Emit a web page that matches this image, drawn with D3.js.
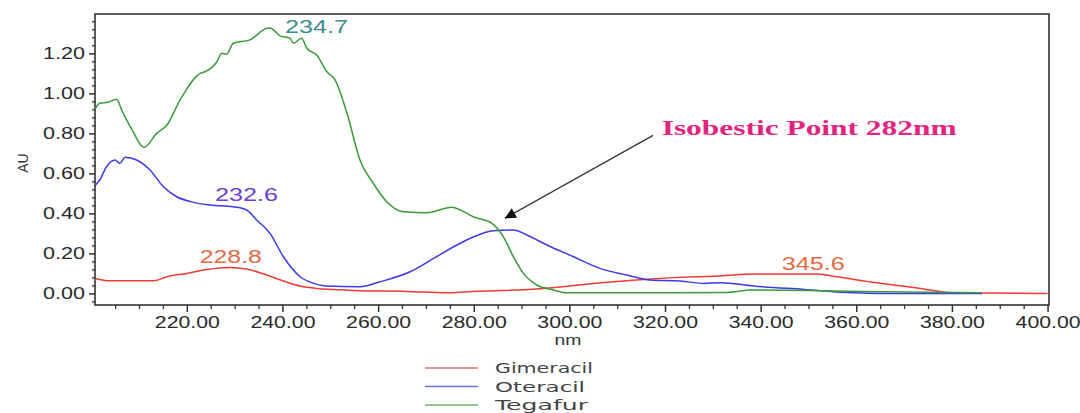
<!DOCTYPE html>
<html><head><meta charset="utf-8">
<script src="https://cdn.jsdelivr.net/npm/d3@7"></script>
<style>body{margin:0;background:#fff}svg{display:block}</style>
</head><body><svg id="c" width="1080" height="413"></svg>
<script>
// ---- data ----
const gimeracilNm = [200.8,203.9,213.0,215.8,220.0,224.2,229.0,232.5,236.7,240.2,243.7,247.2,250.7,256.2,266.0,274.4,278.6,294.6,305.0,315.5,326.0,331.5,338.5,351.8,356.0,364.3,373.4,380.4,400.0];
const gimeracilAU = [0.075,0.063,0.063,0.083,0.100,0.120,0.130,0.122,0.092,0.062,0.037,0.025,0.020,0.013,0.010,0.003,0.008,0.025,0.050,0.070,0.083,0.087,0.097,0.097,0.083,0.053,0.025,0.003,0.000];

const oteracilNm = [200.8,201.8,203.2,205.0,206.0,207.1,209.5,212.3,215.1,217.9,221.4,224.9,229.7,232.5,234.6,237.4,240.2,243.7,246.5,248.9,256.2,260.4,266.7,271.6,276.5,280.0,284.1,288.3,291.1,295.3,300.9,306.4,312.0,316.9,323.2,328.1,331.6,338.5,349.0,359.5,365.0,386.3];
const oteracilAU = [0.540,0.567,0.633,0.667,0.650,0.680,0.667,0.617,0.533,0.483,0.455,0.442,0.433,0.417,0.367,0.300,0.183,0.083,0.050,0.037,0.033,0.058,0.108,0.175,0.242,0.283,0.313,0.317,0.292,0.242,0.183,0.125,0.092,0.067,0.062,0.050,0.053,0.037,0.020,0.003,0.000,0.000];

const tegafurNm = [200.8,201.8,203.5,205.3,206.5,208.5,211.05,213.7,215.8,218.6,222.8,223.8,226.3,227.3,228.3,229.7,233.2,236.7,237.4,239.5,241.6,242.3,244.0,245.1,247.2,249.3,251.0,253.5,256.3,259.0,261.8,265.3,270.2,275.4,277.2,279.9,283.8,286.2,288.3,290.4,293.2,296.7,299.5,320.0,333.0,338.0,350.0,365.0,386.0];
const tegafurAU = [0.920,0.950,0.955,0.970,0.910,0.820,0.730,0.800,0.840,0.967,1.100,1.108,1.158,1.200,1.196,1.250,1.267,1.325,1.327,1.287,1.275,1.250,1.275,1.225,1.190,1.108,1.067,0.900,0.660,0.550,0.458,0.408,0.403,0.430,0.417,0.383,0.350,0.283,0.183,0.100,0.042,0.017,0.003,0.003,0.005,0.017,0.015,0.008,0.003];

const seriesNames = ["Gimeracil","Oteracil","Tegafur"];
const seriesColors = ["#ec3b35","#3b3be6","#3a9a3a"];
const legendColors = ["#e97070","#6f6fe3","#6fae6f"];

const xTicks = [220,240,260,280,300,320,340,360,380,400];
const yTicks = [0,0.2,0.4,0.6,0.8,1.0,1.2];

const peakText = ["228.8","232.6","234.7","345.6"];
const peakNm   = [229.2,232.5,247.1,351.0];
const peakAU   = [0.152,0.4595,1.302,0.117];
const peakColors = ["#e36a42","#6a40d2","#3b8c8c","#e36a42"];
const peakWidth = [62,63,63,63];

const isoText = "Isobestic Point 282nm";
const isoTextPos = [319.3, 0.79];
const arrowFrom = [317.5, 0.79];
const arrowTo = [286.5, 0.375];

// ---- drawing ----
const svg = d3.select("#c");
const x = d3.scaleLinear().domain([200.8, 400.3]).range([95, 1049]);
const y = d3.scaleLinear().domain([-0.058, 1.3965]).range([305, 14]);

const defs = svg.append("defs");
defs.append("marker").attr("id","ah").attr("viewBox","0 0 10 10")
  .attr("refX",10).attr("refY",5).attr("markerWidth",15).attr("markerHeight",11)
  .attr("markerUnits","userSpaceOnUse").attr("orient","auto")
  .append("path").attr("d","M0,0 L10,5 L0,10 Z").attr("fill","#111");

const tickFont = "'Liberation Sans', Arial, sans-serif";

// minor ticks
const xMinor = d3.range(205, 401, 5).filter(v => v % 20 !== 0);
svg.append("g").attr("transform","translate(0,305)")
  .call(d3.axisBottom(x).tickValues(xMinor).tickSize(4).tickSizeOuter(0).tickFormat(""))
  .call(g => g.select(".domain").remove())
  .call(g => g.selectAll("line").attr("stroke","#333").attr("stroke-width",1.3));
const yMinor = d3.range(-1, 35).map(i => +(i*0.04).toFixed(2)).filter(v => Math.abs(v*5 - Math.round(v*5)) > 1e-6);
svg.append("g").attr("transform","translate(95,0)")
  .call(d3.axisLeft(y).tickValues(yMinor).tickSize(3).tickSizeOuter(0).tickFormat(""))
  .call(g => g.select(".domain").remove())
  .call(g => g.selectAll("line").attr("stroke","#333").attr("stroke-width",1.3));

// major axes
const gx = svg.append("g").attr("transform","translate(0,305)")
  .call(d3.axisBottom(x).tickValues(xTicks).tickSize(7).tickSizeOuter(0).tickPadding(4).tickFormat(d3.format(".2f")));
gx.select(".domain").remove();
gx.selectAll("line").attr("stroke","#333").attr("stroke-width",1.5);
gx.selectAll("text").attr("font-family",tickFont).attr("font-size",17).attr("fill","#2a2a2a")
  .attr("textLength",65).attr("lengthAdjust","spacingAndGlyphs");

const gy = svg.append("g").attr("transform","translate(95,0)")
  .call(d3.axisLeft(y).tickValues(yTicks).tickSize(6).tickSizeOuter(0).tickPadding(4).tickFormat(d3.format(".2f")));
gy.select(".domain").remove();
gy.selectAll("line").attr("stroke","#333").attr("stroke-width",1.5);
gy.selectAll("text").attr("font-family",tickFont).attr("font-size",16).attr("fill","#2a2a2a")
  .attr("textLength",42).attr("lengthAdjust","spacingAndGlyphs");

// frame
svg.append("rect").attr("x",x.range()[0]).attr("y",y.range()[1])
  .attr("width",x.range()[1]-x.range()[0]).attr("height",y.range()[0]-y.range()[1])
  .attr("fill","none").attr("stroke","#333").attr("stroke-width",1.6);

// lines
const series = [
  gimeracilNm.map((v,i)=>[v,gimeracilAU[i]]),
  oteracilNm.map((v,i)=>[v,oteracilAU[i]]),
  tegafurNm.map((v,i)=>[v,tegafurAU[i]])
];
const line = d3.line().x(d=>x(d[0])).y(d=>y(d[1])).curve(d3.curveMonotoneX);
defs.append("clipPath").attr("id","pc").append("rect")
  .attr("x",x.range()[0]).attr("y",y.range()[1]).attr("width",x.range()[1]-x.range()[0]).attr("height",y.range()[0]-y.range()[1]);
svg.append("g").attr("clip-path","url(#pc)").selectAll("path").data(series).join("path")
  .attr("d",line).attr("fill","none").attr("stroke",(d,i)=>seriesColors[i]).attr("stroke-width",1.5)
  .attr("stroke-linejoin","round");

// peak labels
svg.append("g").selectAll("text").data(peakText).join("text")
  .attr("x",(d,i)=>x(peakNm[i])).attr("y",(d,i)=>y(peakAU[i]))
  .attr("text-anchor","middle").attr("font-family",tickFont).attr("font-size",18)
  .attr("fill",(d,i)=>peakColors[i]).attr("textLength",(d,i)=>peakWidth[i]).attr("lengthAdjust","spacingAndGlyphs")
  .text(d=>d);

// isobestic annotation
svg.append("line").attr("x1",x(arrowFrom[0])).attr("y1",y(arrowFrom[1]))
  .attr("x2",x(arrowTo[0])).attr("y2",y(arrowTo[1]))
  .attr("stroke","#333").attr("stroke-width",1.3).attr("marker-end","url(#ah)");
svg.append("text").attr("x",x(isoTextPos[0])).attr("y",y(isoTextPos[1]))
  .attr("font-family","'Liberation Serif','Times New Roman',serif").attr("font-weight","bold")
  .attr("font-size",20).attr("fill","#e2247e").attr("textLength",295).attr("lengthAdjust","spacingAndGlyphs")
  .text(isoText);

// axis titles
svg.append("text").attr("transform","translate(28,163) rotate(-90)").attr("text-anchor","middle")
  .attr("font-family",tickFont).attr("font-size",14).attr("fill","#333").text("AU");
svg.append("text").attr("x",568).attr("y",345).attr("text-anchor","middle")
  .attr("font-family",tickFont).attr("font-size",14).attr("fill","#333")
  .attr("textLength",27).attr("lengthAdjust","spacingAndGlyphs").text("nm");

// legend
const legendY = [368, 386.5, 405];
const legendW = [98, 90, 93];
const lg = svg.append("g");
seriesNames.forEach((n,i)=>{
  lg.append("line").attr("x1",425).attr("x2",478).attr("y1",legendY[i]).attr("y2",legendY[i])
    .attr("stroke",legendColors[i]).attr("stroke-width",1.6);
  lg.append("text").attr("x",495).attr("y",legendY[i]+5).attr("font-family","'DejaVu Sans',sans-serif")
    .attr("font-size",14).attr("fill","#444").attr("textLength",legendW[i]).attr("lengthAdjust","spacingAndGlyphs").text(n);
});
</script></body></html>
